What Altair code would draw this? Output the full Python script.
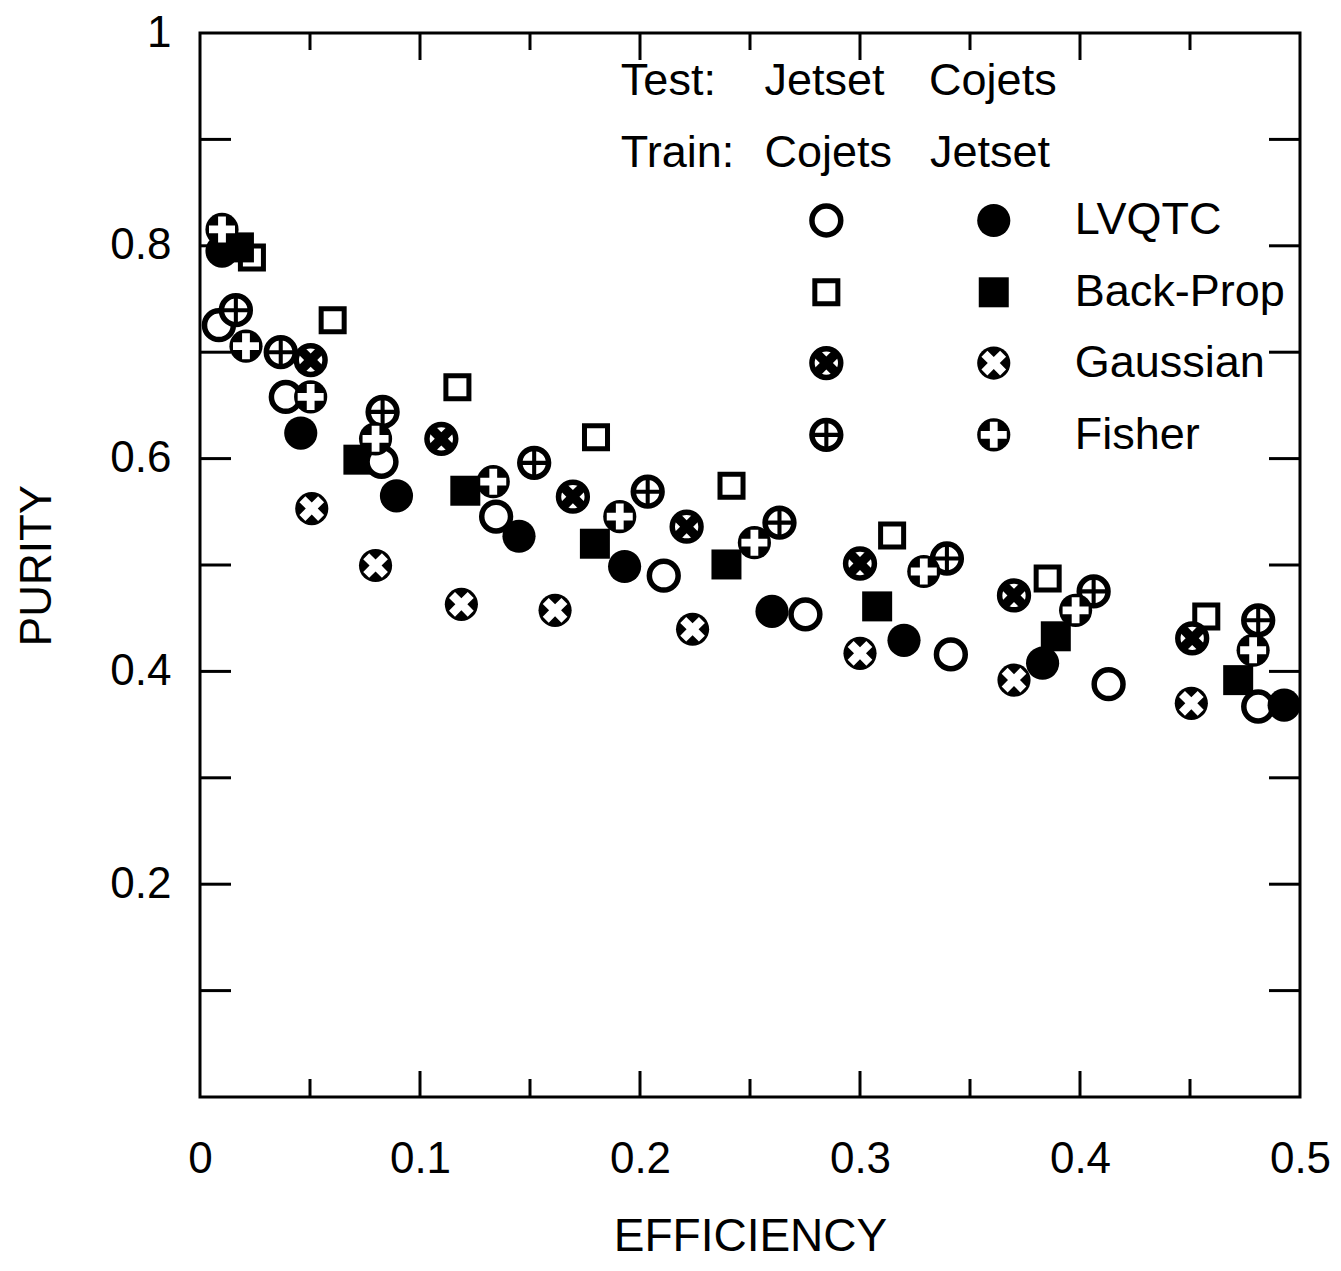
import math
import altair as alt
import pandas as pd

# ---------------- data ----------------
# LVQTC
lvq_jet_x = [0.0086, 0.039, 0.0825, 0.1346, 0.2108, 0.2752, 0.3413, 0.4130, 0.4810]
lvq_jet_y = [0.7254, 0.658, 0.597, 0.5455, 0.490, 0.4536, 0.416, 0.388, 0.367]
lvq_coj_x = [0.010, 0.0458, 0.0893, 0.145, 0.193, 0.260, 0.320, 0.383, 0.4928]
lvq_coj_y = [0.795, 0.624, 0.565, 0.527, 0.4986, 0.4564, 0.4292, 0.4077, 0.3683]
# Back-Prop
bp_jet_x = [0.0236, 0.0603, 0.117, 0.180, 0.2416, 0.3146, 0.3853, 0.4574]
bp_jet_y = [0.789, 0.730, 0.667, 0.620, 0.5745, 0.5277, 0.4873, 0.4517]
bp_coj_x = [0.0177, 0.072, 0.1206, 0.1795, 0.2393, 0.3078, 0.389, 0.4719]
bp_coj_y = [0.7985, 0.599, 0.5698, 0.520, 0.5005, 0.4611, 0.433, 0.3918]
# Gaussian
gau_jet_x = [0.0503, 0.1097, 0.1695, 0.2212, 0.300, 0.370, 0.451]
gau_jet_y = [0.6926, 0.6186, 0.5642, 0.536, 0.5014, 0.4714, 0.4311]
gau_coj_x = [0.0508, 0.0798, 0.1188, 0.1614, 0.2239, 0.300, 0.370, 0.4506]
gau_coj_y = [0.553, 0.4995, 0.463, 0.4574, 0.4396, 0.417, 0.3918, 0.370]
# Fisher
fis_jet_x = [0.0163, 0.0367, 0.083, 0.1519, 0.2035, 0.2634, 0.3395, 0.4062, 0.481]
fis_jet_y = [0.7395, 0.700, 0.6439, 0.596, 0.5689, 0.5398, 0.5061, 0.4752, 0.448]
fis_coj_x = [0.010, 0.0209, 0.0503, 0.0798, 0.1333, 0.1908, 0.252, 0.329, 0.398, 0.4787]
fis_coj_y = [0.8154, 0.7057, 0.658, 0.6186, 0.5783, 0.5455, 0.521, 0.4939, 0.4574, 0.4199]

# legend (in data coordinates)
methods = ["LVQTC", "Back-Prop", "Gaussian", "Fisher"]
leg_rows_y = [0.8238, 0.7563, 0.6898, 0.6223]
leg_col_open_x = 0.2847
leg_col_fill_x = 0.3608
leg_label_x = 0.3976
head_words = ["Test:", "Jetset", "Cojets", "Train:", "Cojets", "Jetset"]
head_x = [0.1913, 0.2566, 0.3314, 0.1913, 0.2566, 0.3318]
head_y = [0.955, 0.955, 0.955, 0.8875, 0.8875, 0.8875]

# axis ticks / labels
x_labels = [0, 0.1, 0.2, 0.3, 0.4, 0.5]
y_labels = [0.2, 0.4, 0.6, 0.8, 1.0]
x_major = [0.1, 0.2, 0.3, 0.4]
x_minor = [0.05, 0.15, 0.25, 0.35, 0.45]
y_ticks = [0.1, 0.2, 0.3, 0.4, 0.5, 0.6, 0.7, 0.8, 0.9]

# ---------------- chart ----------------
W, H = 1100, 1064
FONT = "Liberation Sans"
xs = alt.Scale(domain=[0, 0.5], nice=False, zero=False)
ys = alt.Scale(domain=[0, 1], nice=False, zero=False)
xaxis = alt.Axis(values=x_labels, format=".1~f", ticks=False, domain=False, grid=False,
                 labelFontSize=44, labelFont=FONT, labelColor="black", labelPadding=40,
                 labelFlush=False, titleFontSize=46, titleFont=FONT, titleFontWeight="normal",
                 titleColor="black", titlePadding=33)
yaxis = alt.Axis(values=y_labels, format=".1~f", ticks=False, domain=False, grid=False,
                 labelFontSize=44, labelFont=FONT, labelColor="black", labelPadding=29,
                 labelFlush=False, titleFontSize=44, titleFont=FONT, titleFontWeight="normal",
                 titleColor="black", titlePadding=50)
X = alt.X("x:Q", scale=xs, axis=xaxis, title="EFFICIENCY")
Y = alt.Y("y:Q", scale=ys, axis=yaxis, title="PURITY")


def cross_path(a, rot=False):
    pts = [(-1, -a), (-a, -a), (-a, -1), (a, -1), (a, -a), (1, -a),
           (1, a), (a, a), (a, 1), (-a, 1), (-a, a), (-1, a)]
    if rot:
        c = math.cos(math.pi / 4)
        pts = [((px - py) * c, (px + py) * c) for px, py in pts]
    return "M" + "L".join(f"{px:.3f},{py:.3f}" for px, py in pts) + "Z"


PLUS_THICK = cross_path(0.30)
X_THICK = cross_path(0.32, rot=True)
PLUS_THIN = cross_path(0.14)


def df_of(xv, yv, li):
    return pd.DataFrame({"x": list(xv) + [leg_col_open_x if li[1] == "o" else leg_col_fill_x],
                         "y": list(yv) + [leg_rows_y[li[0]]]})


def layer(df, **kw):
    base = dict(opacity=1, fillOpacity=1, strokeOpacity=1)
    base.update(kw)
    return alt.Chart(df).mark_point(**base).encode(x=X, y=Y)


RING = dict(shape="circle", filled=True, fill="white", stroke="black", strokeWidth=5.5, size=830)
DISK = dict(shape="circle", filled=True, fill="black", strokeWidth=0, size=1100)

d_bp_j = df_of(bp_jet_x, bp_jet_y, (1, "o"))
d_bp_c = df_of(bp_coj_x, bp_coj_y, (1, "f"))
d_lv_j = df_of(lvq_jet_x, lvq_jet_y, (0, "o"))
d_lv_c = df_of(lvq_coj_x, lvq_coj_y, (0, "f"))
d_ga_j = df_of(gau_jet_x, gau_jet_y, (2, "o"))
d_ga_c = df_of(gau_coj_x, gau_coj_y, (2, "f"))
d_fi_j = df_of(fis_jet_x, fis_jet_y, (3, "o"))
d_fi_c = df_of(fis_coj_x, fis_coj_y, (3, "f"))

layers = [
    layer(d_bp_j, shape="square", filled=True, fill="white", stroke="black", strokeWidth=5, size=530),
    layer(d_bp_c, shape="square", filled=True, fill="black", strokeWidth=0, size=900),
    layer(d_lv_j, **RING),
    layer(d_lv_c, **DISK),
    layer(d_ga_j, **RING),
    layer(d_ga_j, shape=X_THICK, filled=True, fill="black", strokeWidth=0, size=841),
    layer(d_ga_c, **DISK),
    layer(d_ga_c, shape=X_THICK, filled=True, fill="white", strokeWidth=0, size=700),
    layer(d_fi_j, **RING),
    layer(d_fi_j, shape=PLUS_THIN, filled=True, fill="black", strokeWidth=0, size=841),
    layer(d_fi_c, **DISK),
    layer(d_fi_c, shape=PLUS_THICK, filled=True, fill="white", strokeWidth=0, size=676),
]

# tick marks (inside the frame)
tick_kw = dict(color="black", strokeWidth=3)
d_xmaj = pd.DataFrame({"x": x_major})
d_xmin = pd.DataFrame({"x": x_minor})
d_yt = pd.DataFrame({"y": y_ticks})
ticks = [
    alt.Chart(d_xmaj).mark_rule(**tick_kw).encode(x=X, y=alt.value(H), y2=alt.value(H - 26)),
    alt.Chart(d_xmin).mark_rule(**tick_kw).encode(x=X, y=alt.value(H), y2=alt.value(H - 18)),
    alt.Chart(d_xmaj).mark_rule(**tick_kw).encode(x=X, y=alt.value(0), y2=alt.value(27)),
    alt.Chart(d_xmin).mark_rule(**tick_kw).encode(x=X, y=alt.value(0), y2=alt.value(17)),
    alt.Chart(d_yt).mark_rule(**tick_kw).encode(y=Y, x=alt.value(0), x2=alt.value(31)),
    alt.Chart(d_yt).mark_rule(**tick_kw).encode(y=Y, x=alt.value(W), x2=alt.value(W - 31)),
]

# legend texts
d_head = pd.DataFrame({"x": head_x, "y": head_y, "t": head_words})
d_lab = pd.DataFrame({"x": [leg_label_x] * 4, "y": leg_rows_y, "t": methods})
txt_kw = dict(align="left", baseline="middle", fontSize=45, font=FONT, color="black")
texts = [
    alt.Chart(d_head).mark_text(**txt_kw).encode(x=X, y=Y, text="t:N"),
    alt.Chart(d_lab).mark_text(**txt_kw).encode(x=X, y=Y, text="t:N"),
]

chart = alt.layer(*ticks, *layers, *texts).properties(
    width=W, height=H,
    autosize=alt.AutoSizeParams(type="none"),
    padding={"left": 192, "top": 25, "right": 33, "bottom": 166},
    background="white",
).configure_view(stroke="black", strokeWidth=3)

chart.save("out.html", embed_options={"renderer": "svg", "actions": False})
